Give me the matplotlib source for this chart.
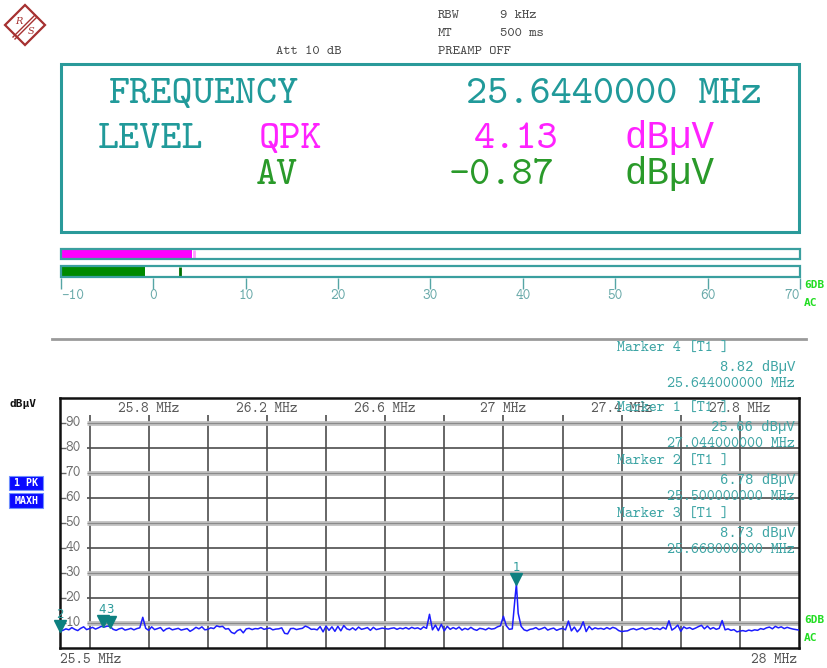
import numpy as np
import matplotlib
matplotlib.use('Agg')
import matplotlib.pyplot as plt
from matplotlib.patches import Rectangle, Polygon
import matplotlib.transforms as mtransforms

plt.rcParams['axes.unicode_minus'] = False

W, H = 828, 668
MONO = ['cmtt10', 'DejaVu Sans Mono']
UMONO = ['Liberation Mono', 'DejaVu Sans Mono']   # for strings containing µ
TEAL = '#219a9a'
MTEAL = '#3ea5a5'
MAG = '#ff22ff'
GRN = '#2a9a2a'

# ---------------- data ----------------
span_start, span_stop = 25.5, 28.0
levels = [
    6.8, 7.2, 7.8, 7.4, 8.3, 7.6, 7.1, 8.0, 8.6, 7.5,
    7.9, 8.4, 7.7, 8.2, 8.8, 8.5, 8.9, 8.7, 7.6, 7.2,
    7.8, 8.1, 7.3, 7.6, 8.0, 7.4, 7.9, 8.2, 12.4, 8.0,
    7.2, 8.6, 7.5, 7.9, 8.3, 6.9, 7.8, 8.1, 7.4, 7.7,
    8.0, 7.3, 7.6, 7.9, 6.8, 7.5, 8.4, 7.8, 8.6, 7.4,
    7.6, 8.2, 7.9, 9.0, 8.6, 8.8, 7.7, 7.9, 6.4, 5.9,
    7.1, 7.6, 6.2, 7.8, 8.0, 7.5, 7.9, 7.8, 8.3, 7.6,
    7.9, 8.1, 7.4, 7.7, 7.8, 8.2, 6.0, 5.8, 7.9, 8.0,
    7.5, 7.8, 8.0, 8.9, 8.4, 7.6, 7.7, 7.4, 8.7, 6.6,
    8.9, 7.2, 8.6, 6.8, 8.8, 7.0, 9.1, 7.8, 7.4, 8.2,
    7.3, 8.5, 7.6, 7.9, 8.3, 7.2, 8.4, 7.5, 7.8, 8.1,
    7.9, 7.7, 8.0, 8.2, 7.6, 8.1, 7.8, 8.3, 7.7, 8.4,
    7.9, 8.2, 7.6, 8.6, 8.0, 13.6, 7.4, 9.3, 7.1, 9.6,
    7.0, 8.8, 7.6, 8.3, 7.7, 8.5, 7.3, 8.0, 7.5, 8.4,
    7.6, 7.2, 8.0, 7.8, 7.4, 8.1, 7.7, 7.9, 8.6, 9.0,
    12.8, 9.0, 7.6, 7.8, 21.0, 14.0, 8.8, 7.4, 7.0, 7.6,
    7.8, 8.3, 7.5, 7.9, 8.4, 7.3, 7.8, 8.1, 7.2, 7.7,
    8.0, 7.4, 10.9, 7.0, 8.5, 6.6, 7.9, 10.6, 6.7, 8.8,
    7.5, 8.2, 7.8, 8.0, 7.6, 8.3, 7.7, 8.4, 8.0, 7.1,
    6.7, 6.9, 7.0, 7.6, 7.9, 7.4, 7.8, 8.2, 7.5, 7.9,
    8.2, 7.6, 8.0, 7.5, 8.4, 7.7, 11.0, 7.3, 8.1, 9.3,
    6.8, 8.6, 7.9, 8.3, 7.6, 8.1, 8.7, 9.2, 7.8, 8.9,
    7.7, 8.3, 7.6, 8.0, 11.1, 7.4, 7.8, 7.2, 7.5, 6.6,
    6.9, 7.1, 6.8, 7.3, 7.0, 7.4, 7.2, 7.9, 7.6, 8.2,
    8.5, 7.8, 8.8, 8.2, 8.6, 7.9, 8.4, 8.0, 7.7, 7.5,
    7.3,
]
peak_freqs = [27.044]
peak_levels = [25.66]

marker_ids = [1, 2, 3, 4]
marker_freqs = [27.044, 25.500, 25.668, 25.644]
marker_levels = [25.66, 6.78, 8.73, 8.82]
readout_order = [4, 1, 2, 3]

xgrid_freqs = [25.6, 25.8, 26.0, 26.2, 26.4, 26.6, 26.8, 27.0, 27.2, 27.4, 27.6, 27.8]
xtick_freqs = [25.8, 26.2, 26.6, 27.0, 27.4, 27.8]
xtick_labels = ['25.8 MHz', '26.2 MHz', '26.6 MHz', '27 MHz', '27.4 MHz', '27.8 MHz']
ygrid_levels = [10, 20, 30, 40, 50, 60, 70, 80, 90]

meter_names = ['QPK', 'AV']
meter_values = [4.13, -0.87]
meter_holds = [4.35, 2.9]
meter_ticks = [-10, 0, 10, 20, 30, 40, 50, 60, 70]
meter_tick_labels = ['-10', '0', '10', '20', '30', '40', '50', '60', '70']

frequency_text = '25.6440000 MHz'
settings_left = ['RBW', 'MT', 'PREAMP OFF']
settings_right = ['9 kHz', '500 ms', '']
att_text = 'Att 10 dB'


def rect(l, t, r, b):
    return [l / W, 1 - b / H, (r - l) / W, (b - t) / H]


fig = plt.figure(figsize=(W / 100, H / 100), dpi=100)
fig.patch.set_facecolor('white')

# ---------------- spectrum axes ----------------
ax = fig.add_axes(rect(60, 397.6, 799, 648.4))
ax.set_xlim(span_start, span_stop)
ax.set_ylim(0, 100)
for s in ax.spines.values():
    s.set_linewidth(1.8)
    s.set_color('#111111')
ax.set_xticks([])
ax.set_yticks(ygrid_levels)
ax.tick_params(axis='y', direction='in', length=4, width=1, color='#666666', labelleft=False)

for f in xgrid_freqs:
    ax.vlines(f, 0, 93, color='#4d4d4d', lw=1.2, zorder=1)
for v in ygrid_levels:
    if v % 20 == 10:
        ax.hlines(v, 25.593, span_stop, color='#bfbfbf', lw=3.4, zorder=1)
        ax.hlines(v, 25.593, span_stop, color='#8a8a8a', lw=0.8, zorder=1)
    else:
        ax.hlines(v, 25.593, span_stop, color='#4d4d4d', lw=1.2, zorder=1)
    ax.text(25.518, v, f'{v}', ha='left', va='center', color='#6e6e6e',
            fontsize=10.5, family=MONO, zorder=2)
for f, lab in zip(xtick_freqs, xtick_labels):
    ax.text(f, 95.6, lab, ha='center', va='center', color='#5a5a5a',
            fontsize=10.5, family=MONO, zorder=2)

base_freqs = np.linspace(span_start, span_stop, len(levels))
tr_f = np.concatenate([base_freqs, peak_freqs])
tr_l = np.concatenate([levels, peak_levels])
order = np.argsort(tr_f, kind='stable')
ax.plot(tr_f[order], tr_l[order], color='#1c1cff', lw=1.1, zorder=4)

off = mtransforms.offset_copy(ax.transData, fig=fig, x=0, y=5, units='dots')
for mid, mf, ml in zip(marker_ids, marker_freqs, marker_levels):
    ax.plot([mf], [ml], marker='v', ms=9, color='#0d8080', ls='none',
            transform=off, clip_on=False, zorder=6)
    ax.annotate(str(mid), (mf, ml), xytext=(0, 17), textcoords='offset pixels',
                ha='center', va='center', color='#2a9a9a', fontsize=8.5,
                family='DejaVu Sans', zorder=6, annotation_clip=False)

# ---------------- level meter ----------------
mx = fig.add_axes(rect(61, 248, 800, 278))
mx.set_xlim(meter_ticks[0], meter_ticks[-1])
mx.set_ylim(278, 248)
for s in mx.spines.values():
    s.set_visible(False)
mx.patch.set_alpha(0)
row_y = [254, 271.5]
row_h = [10.5, 11]
fill_colors = ['#ff00ff', '#008a00']
hold_colors = ['#ff99ff', '#007000']
for y, h, v, hv, c, hc in zip(row_y, row_h, meter_values, meter_holds, fill_colors, hold_colors):
    mx.barh(y, v - meter_ticks[0], left=meter_ticks[0], height=h - 1.5, color=c, zorder=2)
    mx.vlines(hv, y - h / 2 + 0.8, y + h / 2 - 0.8, color=hc, lw=2, zorder=3)
    mx.add_patch(Rectangle((meter_ticks[0], y - h / 2), meter_ticks[-1] - meter_ticks[0], h,
                           fill=False, ec='#3a9f9f', lw=1.6, zorder=4, clip_on=False))
mx.set_yticks([])
mx.set_xticks(meter_ticks)
mx.set_xticklabels(meter_tick_labels, family=MONO, fontsize=10.5, color='#6aaaaa')
mx.tick_params(axis='x', direction='out', length=8, width=1, color='#55a5a5', pad=0)
tl = mx.get_xticklabels()
tl[0].set_horizontalalignment('left')
tl[-1].set_horizontalalignment('right')

# ---------------- overlay (pixel coordinates) ----------------
ov = fig.add_axes([0, 0, 1, 1])
ov.set_xlim(0, W)
ov.set_ylim(H, 0)
ov.axis('off')
ov.set_zorder(10)
ov.patch.set_alpha(0)

# logo
logo_c = '#a63030'
ov.add_patch(Polygon([(25, 5), (45, 25), (25, 45), (5, 25)], closed=True,
                     fill=False, ec=logo_c, lw=1.6))
ov.plot([13, 35], [37, 15], color=logo_c, lw=1.0)
ov.plot([15, 37], [39, 17], color=logo_c, lw=1.0)
ov.text(19, 21, 'R', color=logo_c, fontsize=7, family='DejaVu Serif',
        style='italic', ha='center', va='center')
ov.text(31, 31, 'S', color=logo_c, fontsize=7, family='DejaVu Serif',
        style='italic', ha='center', va='center')

# header settings
for i, (a, b) in enumerate(zip(settings_left, settings_right)):
    y = 15 + 18 * i
    ov.text(438, y, a, color='#4a4a4a', fontsize=10, family=MONO, va='center')
    if b:
        ov.text(500, y, b, color='#4a4a4a', fontsize=10, family=MONO, va='center')
ov.text(276, 51, att_text, color='#4a4a4a', fontsize=10, family=MONO, va='center')

# readout box
ov.add_patch(Rectangle((61, 63.5), 738.5, 168, fill=False, ec='#2a9a9a', lw=2.2))
BIG = 29
ov.text(204, 103, 'FREQUENCY', color=TEAL, fontsize=BIG, family=MONO, ha='center', va='baseline')
ov.text(614, 103, frequency_text, color=TEAL, fontsize=BIG, family=MONO, ha='center', va='baseline')
ov.text(151, 148, 'LEVEL', color=TEAL, fontsize=BIG, family=MONO, ha='center', va='baseline')
row_base = [148, 184]
row_cols = [MAG, GRN]
name_x = [290, 277]
for name, v, yb, c, nx in zip(meter_names, meter_values, row_base, row_cols, name_x):
    ov.text(nx, yb, name, color=c, fontsize=BIG, family=MONO, ha='center', va='baseline')
    ov.text(516 if v >= 0 else 502, yb, f'{v:.2f}', color=c, fontsize=BIG, family=MONO,
            ha='center', va='baseline')
    ov.text(670, yb, 'dBµV', color=c, fontsize=27, family=UMONO, ha='center', va='baseline')

# 6DB / AC tags
for yy in (285, 620):
    ov.text(804, yy, '6DB', color='#22dd22', fontsize=8, fontweight='bold',
            family='DejaVu Sans Mono', va='center')
    ov.text(804, yy + 18, 'AC', color='#22dd22', fontsize=8, fontweight='bold',
            family='DejaVu Sans Mono', va='center')

# separator
ov.plot([52, 806], [338.5, 338.5], color='#9a9a9a', lw=2)

# left labels
ov.text(10, 404, 'dBµV', color='#111111', fontsize=8, fontweight='bold',
        family='DejaVu Sans Mono', va='center')
ov.add_patch(Rectangle((9, 476), 34.5, 14, fc='#0a0aff', ec='#6f8fff', lw=0.8))
ov.text(26.2, 483.2, '1 PK', color='white', fontsize=7.2, fontweight='bold',
        family='DejaVu Sans Mono', ha='center', va='center')
ov.add_patch(Rectangle((9, 493), 34.5, 15, fc='#0a0aff', ec='#6f8fff', lw=0.8))
ov.text(26.2, 500.6, 'MAXH', color='white', fontsize=7.2, fontweight='bold',
        family='DejaVu Sans Mono', ha='center', va='center')

# marker readouts
block_y = [349, 409, 462, 515]
for yb, mid in zip(block_y, readout_order):
    k = marker_ids.index(mid)
    ov.text(617, yb, f'Marker {mid} [T1 ]', color=MTEAL, fontsize=11, family=MONO, va='center')
    ov.text(795, yb + 17.7, f'{marker_levels[k]:.2f} dBµV', color=MTEAL, fontsize=10,
            family=UMONO, va='center', ha='right')
    ov.text(795, yb + 35.3, f'{marker_freqs[k]:.9f} MHz', color=MTEAL, fontsize=11,
            family=MONO, va='center', ha='right')

# span labels
ov.text(60, 660, f'{span_start} MHz', color='#555555', fontsize=10.5, family=MONO, va='center')
ov.text(797, 660, f'{span_stop:g} MHz', color='#555555', fontsize=10.5, family=MONO,
        va='center', ha='right')

fig.savefig('out.png', dpi=100, facecolor='white')
